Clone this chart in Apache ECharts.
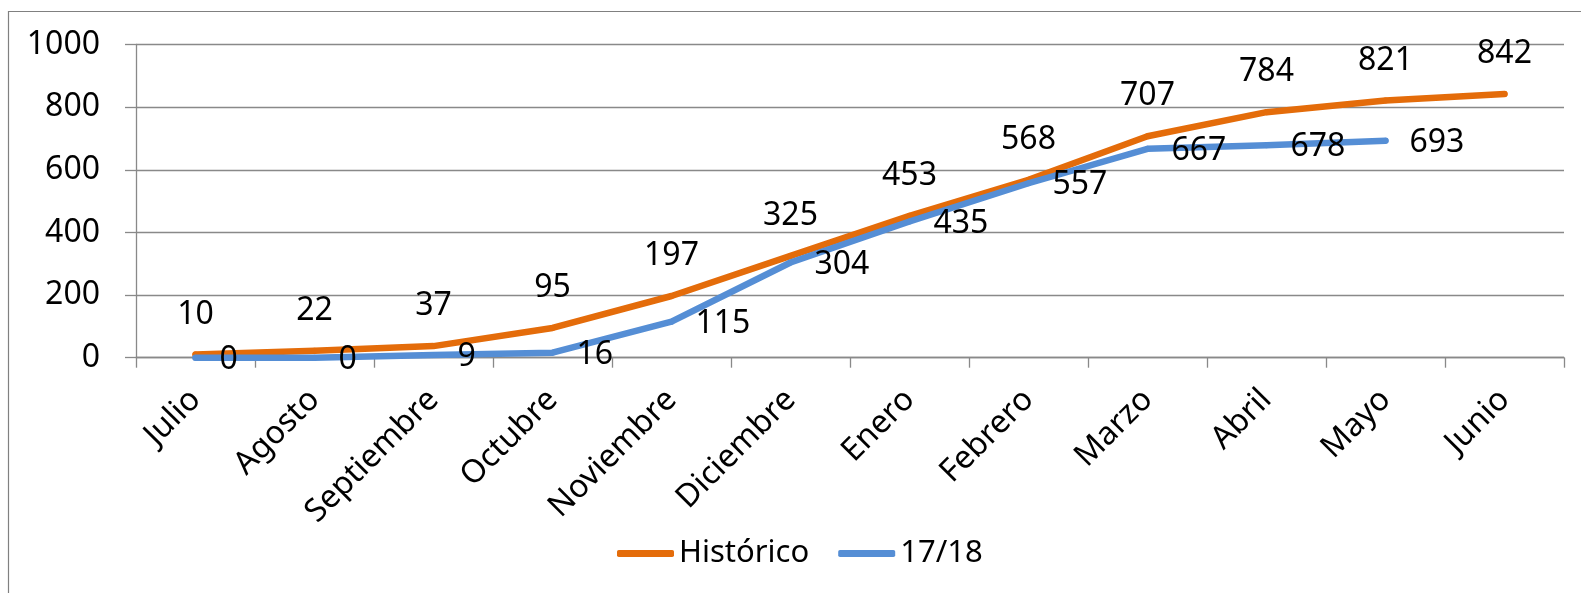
<!DOCTYPE html>
<html>
<head>
<meta charset="utf-8">
<script src="https://cdn.jsdelivr.net/npm/echarts@6/dist/echarts.min.js"></script>
<style>
html,body{margin:0;padding:0;background:#fff;}
#chart{width:1581px;height:593px;}
</style>
</head>
<body>
<div id="chart"></div>
<script>
const categories = ['Julio','Agosto','Septiembre','Octubre','Noviembre','Diciembre','Enero','Febrero','Marzo','Abril','Mayo','Junio'];
const historico = [10,22,37,95,197,325,453,568,707,784,821,842];
const temporada = [0,0,9,16,115,304,435,557,667,678,693,null];
const yTicks = [0,200,400,600,800,1000];

const FONT = '"Noto Sans", sans-serif';
const chart = echarts.init(document.getElementById('chart'), null, {renderer:'canvas'});
chart.setOption({
  animation:false,
  backgroundColor:'#ffffff',
  graphic:[{
    type:'rect', left:6, top:9,
    shape:{width:1600, height:620},
    style:{fill:'none', stroke:'#808080', lineWidth:1.2},
    silent:true, z:-1
  }],
  grid:{left:136, right:17, top:44.5, bottom:235.3, containLabel:false},
  legend:{
    left:617, top:538, padding:0,
    itemWidth:57, itemHeight:7, itemGap:29,
    textStyle:{fontFamily:FONT, fontSize:31, color:'#000'},
    data:[
      {name:'Histórico', icon:'roundRect', itemStyle:{color:'#E46C0A'}},
      {name:'17/18', icon:'roundRect', itemStyle:{color:'#558ED5'}}
    ]
  },
  xAxis:{
    type:'category', data:categories, boundaryGap:true,
    axisLine:{lineStyle:{color:'#898989', width:1.3}},
    axisTick:{show:true, length:10, lineStyle:{color:'#898989', width:1.3}},
    axisLabel:{rotate:45, margin:37, fontFamily:FONT, fontSize:32, color:'#000', interval:0}
  },
  yAxis:{
    type:'value', min:yTicks[0], max:yTicks[yTicks.length-1], interval:200,
    axisLine:{show:true, lineStyle:{color:'#898989', width:1.3}},
    axisTick:{show:true, length:11, lineStyle:{color:'#898989', width:1.3}},
    splitLine:{lineStyle:{color:'#898989', width:1.3}},
    axisLabel:{margin:36, fontFamily:FONT, fontSize:32, color:'#000', formatter:function(v){return String(v);}}
  },
  series:[
    {
      name:'Histórico', type:'line', data:historico,
      color:'#E46C0A',
      symbol:'circle', symbolSize:6, showSymbol:true,
      lineStyle:{width:6.5, color:'#E46C0A', cap:'round', join:'round'},
      itemStyle:{color:'#E46C0A'},
      label:{show:true, position:'top', distance:19, lineHeight:36, fontFamily:FONT, fontSize:32, color:'#000'},
      z:2
    },
    {
      name:'17/18', type:'line', data:temporada,
      color:'#558ED5',
      symbol:'circle', symbolSize:6, showSymbol:true,
      lineStyle:{width:6.5, color:'#558ED5', cap:'round', join:'round'},
      itemStyle:{color:'#558ED5'},
      label:{show:true, position:'right', distance:21, offset:[0,2], fontFamily:FONT, fontSize:32, color:'#000'},
      z:3
    }
  ]
});
</script>
</body>
</html>
